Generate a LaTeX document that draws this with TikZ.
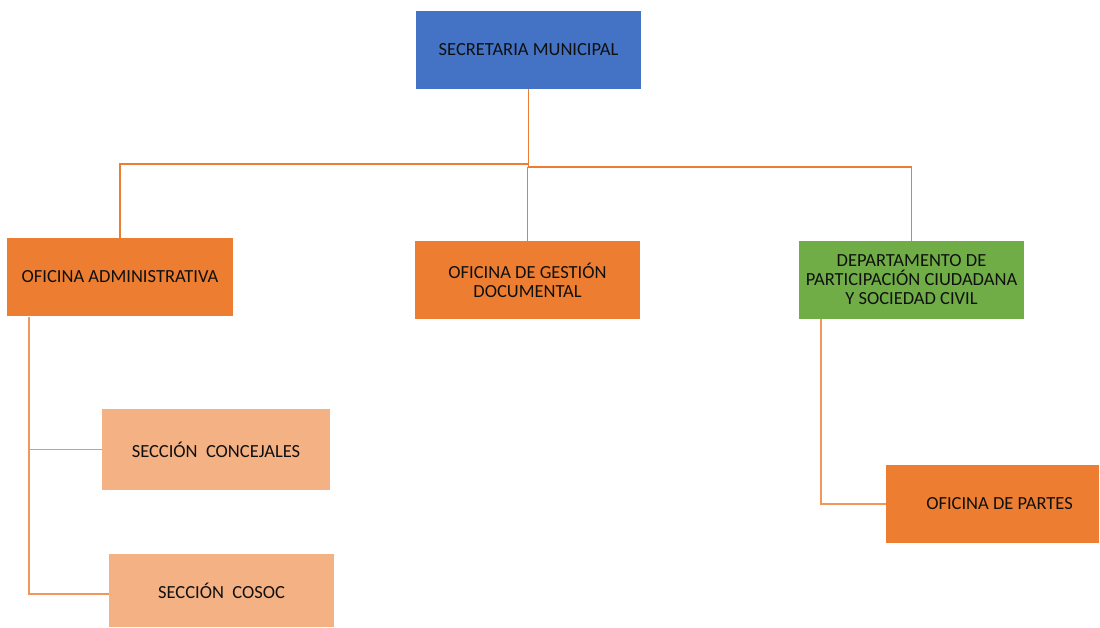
\documentclass[tikz,border=0pt]{standalone}
\usepackage{fontspec}
\setmainfont{Carlito}
\definecolor{boxblue}{HTML}{4472C4}
\definecolor{boxorange}{HTML}{ED7D31}
\definecolor{boxgreen}{HTML}{70AD47}
\definecolor{boxlight}{HTML}{F4B183}
\definecolor{ink}{HTML}{101010}
\begin{document}
\begin{tikzpicture}[x=1pt,y=-1pt,
  unit/.style={rectangle, inner sep=0pt, align=center, text=ink,
    font=\fontsize{18.5}{19}\selectfont},
  chief/.style={unit, fill=boxblue},
  office/.style={unit, fill=boxorange},
  dept/.style={unit, fill=boxgreen},
  section/.style={unit, fill=boxlight},
  conn/.style={draw=boxorange, line width=1.3pt},
  connthin/.style={draw=boxorange!80, line width=1.1pt}]
\useasboundingbox (0,0) rectangle (1100,628);

% units
\node[chief, minimum width=225pt, minimum height=78pt] (sec) at (528.5,50) {SECRETARIA MUNICIPAL};
\node[office, minimum width=226pt, minimum height=78pt] (adm) at (120,277) {OFICINA ADMINISTRATIVA};
\node[office, minimum width=225pt, minimum height=78pt] (gest) at (527.5,280) {OFICINA DE GESTIÓN\\DOCUMENTAL};
\node[dept, minimum width=225pt, minimum height=78pt] (dep) at (911.5,280) {DEPARTAMENTO DE\\PARTICIPACIÓN CIUDADANA\\Y SOCIEDAD CIVIL};
\node[section, minimum width=228pt, minimum height=81pt] (con) at (216,449.5) {SECCIÓN\ \ CONCEJALES};
\node[section, minimum width=225pt, minimum height=73pt] (cos) at (221.5,590.5) {SECCIÓN\ \ COSOC};
\node[office, minimum width=213pt, minimum height=78pt] (par) at (992.5,504) {\hspace*{14pt}OFICINA DE PARTES};

% junction points of the top level
\coordinate (hubA) at (529,164);
\coordinate (hubB) at (528,167);
\coordinate (admL) at (29,317);
\coordinate (depL) at (821,319);

% connectors
\draw[conn] (sec.south) -- (sec.south |- hubA) -| (adm.north);
\draw[conn] (sec.south |- hubA) -- (sec.south |- hubB) -| (dep.north);
\draw[conn] (gest.north |- hubB) -- (gest.north);
\draw[connthin] (admL) |- (con.west);
\draw[connthin] (admL) |- ([yshift=-3.5pt]cos.west);
\draw[connthin] (depL) |- (par.west);
\end{tikzpicture}
\end{document}
